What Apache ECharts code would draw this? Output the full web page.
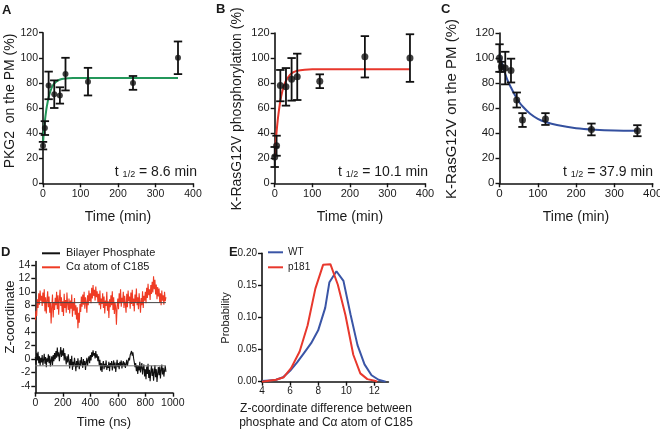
<!DOCTYPE html>
<html><head><meta charset="utf-8">
<script src="https://cdn.jsdelivr.net/npm/echarts@6/dist/echarts.min.js"></script>
<style>html,body{margin:0;padding:0;background:#fff}#c{width:660px;height:430px}</style>
</head><body><div id="c"></div>
<script>
// ---------- Data ----------
const timePoints = [0, 5, 15, 30, 45, 60, 120, 240, 360];
const pkg2Mean = [30, 44, 78, 71, 70, 87, 81, 80, 100];
const pkg2Err  = [3, 5.5, 11, 11, 6.5, 13, 11, 5.5, 13];
const phosMean = [21, 30, 78, 77, 83, 85, 81.5, 101, 100];
const phosErr  = [8, 8, 12.5, 15, 17, 18.5, 5.5, 16.5, 19];
const pmMean   = [100, 93, 92, 90, 66.5, 50.5, 51.3, 43, 42];
const pmErr    = [11, 4, 13, 9.5, 6, 5.5, 4.7, 4.7, 4.4];

const fitTimeAB = [0, 2, 4, 6, 8, 10, 15, 20, 25, 30, 40, 50, 60, 80, 100, 150, 200, 300, 360];
const fitPkg2 = [32, 39.8, 46.5, 52.2, 56.8, 60.8, 68.6, 73.7, 77.2, 79.5, 82, 83.1, 83.6, 83.9, 84, 84, 84, 84, 84];
const fitPhos = [21, 29.8, 37.6, 44.3, 50.2, 55.3, 65.9, 73.1, 78.3, 81.9, 86.4, 88.7, 89.9, 90.7, 91, 91, 91, 91, 91];
const fitTimeC = [0, 10, 20, 30, 40, 50, 60, 80, 100, 120, 150, 200, 250, 300, 360];
const fitPm = [103, 92, 83, 76.5, 70.5, 65.5, 61.5, 55.5, 51.5, 49, 46.5, 44, 42.8, 42.2, 42];

const simStepNs = 5;
const caZ = [
 5.8, 7.2, 6.4, 8.9, 7.6, 9.8, 8.1, 10.2, 8.7, 9.4,
 7.9, 9.9, 8.3, 10.4, 7.1, 9.2, 6.8, 8.8, 10.1, 7.7,
 9.3, 6.9, 8.4, 5.3, 7.8, 9.6, 6.2, 8.5, 7.3, 9.1,
 8.0, 10.0, 7.4, 9.5, 6.6, 8.9, 10.3, 7.9, 9.2, 7.0,
 8.6, 6.4, 9.7, 7.6, 8.8, 6.9, 9.9, 8.2, 7.3, 9.0,
 6.8, 8.7, 7.5, 9.6, 6.3, 8.4, 7.2, 9.1, 6.6, 8.0,
 5.9, 7.7, 4.6, 6.9, 5.4, 8.2, 7.0, 9.3, 7.8, 9.6,
 8.1, 10.0, 7.5, 9.2, 8.4, 6.9, 9.5, 8.0, 10.2, 8.6,
 9.8, 8.3, 10.6, 9.0, 11.0, 9.4, 10.3, 8.7, 10.8, 9.2,
 10.1, 8.5, 9.7, 8.0, 10.2, 7.4, 9.0, 8.2, 9.8, 7.6,
 9.3, 6.8, 8.7, 7.9, 10.0, 7.2, 8.6, 6.1, 8.9, 7.7,
 9.5, 8.0, 10.1, 7.3, 9.2, 6.7, 8.4, 7.6, 5.1, 7.9,
 9.0, 7.4, 9.8, 8.3, 10.4, 7.8, 9.1, 8.5, 10.0, 7.6,
 9.4, 8.1, 6.9, 9.7, 7.7, 10.2, 8.6, 9.3, 7.5, 9.9,
 8.2, 10.3, 7.9, 9.0, 7.1, 9.6, 8.4, 10.5, 8.0, 9.2,
 7.4, 9.8, 8.5, 6.9, 9.1, 8.0, 10.1, 7.6, 9.4, 8.7,
 10.0, 8.3, 10.6, 9.1, 11.2, 9.5, 10.4, 8.8, 11.0, 9.7,
 11.5, 9.9, 12.3, 10.4, 11.8, 9.6, 11.1, 8.9, 10.7, 9.3,
 10.5, 8.4, 9.8, 8.0, 10.2, 8.7, 9.5, 8.1, 10.0, 8.6,
 9.2];
const phosphateZ = [
 0.3, -0.8, 0.9, -0.2, 1.1, -0.6, 0.4, -1.0, 0.2, -0.5,
 0.6, -0.9, -0.1, 0.8, -0.7, 0.3, -1.2, 0.1, -0.4, 0.7,
 -0.6, 0.5, -1.1, -0.2, 0.4, -0.9, 0.6, -0.3, 0.9, 0.0,
 1.2, 0.2, 1.7, 0.4, 1.0, -0.3, 0.8, 1.8, 0.3, 1.3,
 0.5, 1.6, -0.2, 0.9, 0.1, -0.8, 0.4, -0.5, 0.7, -0.3,
 -1.4, 0.0, -0.9, 0.5, -1.6, -0.4, -1.1, 0.2, -0.7, -1.8,
 -0.3, -1.2, 0.1, -0.8, -1.5, -0.2, -1.0, 0.3, -0.6, -1.3,
 0.0, -0.9, -0.3, -1.6, -0.5, 0.2, -1.0, -0.1, 0.4, -0.6,
 0.6, -0.2, 1.0, 0.3, 1.3, 0.5, 0.9, 0.1, 1.2, 0.2,
 0.7, -0.3, 0.4, -0.9, -0.1, -1.7, -0.6, -1.9, -0.8, -0.3,
 -1.5, -0.7, -1.2, -0.2, -1.6, -0.9, -1.3, -0.4, -1.8, -0.6,
 -1.1, -0.3, -1.7, -0.8, -0.2, -1.4, -0.5, -1.9, -0.9, -0.1,
 -1.2, -0.6, -1.5, -0.4, -1.0, -0.2, -1.4, -0.7, -0.3, -1.1,
 -0.5, -1.3, -0.8, -0.1, -1.0, -0.4, 0.2, -0.2, 0.6, 0.9,
 1.2, 0.5, 1.0, 0.1, -0.5, -1.2, -0.6, -1.8, -0.9, -2.2,
 -1.0, -1.7, -0.4, -2.0, -1.2, -0.6, -2.3, -1.3, -0.8, -2.6,
 -1.5, -3.0, -1.1, -2.2, -0.7, -2.8, -1.6, -3.3, -1.9, -1.0,
 -2.5, -1.4, -3.2, -2.0, -0.9, -2.7, -1.5, -3.4, -2.1, -1.2,
 -2.4, -1.1, -2.9, -1.6, -0.8, -2.3, -1.3, -2.6, -1.7, -1.0,
 -1.9];
const caMean = 8.4;
const phosphateMean = -1.0;
const meanLineEnd = 950;

const wtX = [4.0, 4.5, 5.0, 5.5, 6.0, 6.5, 7.0, 7.5, 8.0, 8.5, 8.8, 9.3, 9.8, 10.3, 10.8, 11.3, 11.8, 12.3, 12.8];
const wtP = [0.001, 0.002, 0.003, 0.007, 0.017, 0.030, 0.045, 0.060, 0.080, 0.115, 0.155, 0.172, 0.157, 0.105, 0.057, 0.027, 0.010, 0.003, 0.0];
const p181X = [4.0, 5.0, 5.55, 6.07, 6.68, 7.25, 7.8, 8.35, 8.87, 9.4, 9.94, 10.5, 11.0, 11.5, 12.1, 12.2];
const p181P = [0.0, 0.003, 0.007, 0.021, 0.047, 0.088, 0.145, 0.182, 0.183, 0.151, 0.104, 0.042, 0.013, 0.004, 0.001, 0.0];

const zTicks = [-4, -2, 0, 2, 4, 6, 8, 10, 12, 14];
const diffTicks = [4, 6, 8, 10, 12];

// ---------- Build ----------
const FF = '"Liberation Sans", Arial, Helvetica, sans-serif';
const pairs = (xs, ys) => xs.map((x, i) => [x, ys[i]]);
const simPairs = ys => ys.map((y, i) => [i * simStepNs, y]);

function axisCommon(fs) {
  return {
    axisLine: { show: true, onZero: false, lineStyle: { color: '#111', width: 1.6 } },
    axisTick: { show: true, inside: false, length: 4, lineStyle: { color: '#111', width: 1.4 } },
    axisLabel: { color: '#1a1a1a', fontSize: fs, fontFamily: FF, margin: 5, formatter: v => String(v) },
    splitLine: { show: false }
  };
}
function xAx(gi, fs, extra) { return Object.assign({ type: 'value', gridIndex: gi }, axisCommon(fs), extra); }
function yAx(gi, fs, extra) { return Object.assign({ type: 'value', gridIndex: gi }, axisCommon(fs), extra); }

function errSeries(ai, means, errs) {
  return {
    type: 'custom', xAxisIndex: ai, yAxisIndex: ai, z: 3,
    data: timePoints.map((t, i) => [t, means[i] - errs[i], means[i] + errs[i]]),
    encode: { x: 0, y: [1, 2] },
    renderItem: function (params, api) {
      const x = api.value(0), lo = api.value(1), hi = api.value(2);
      const a = api.coord([x, lo]), b = api.coord([x, hi]);
      const w = 4.2, st = { stroke: '#111', lineWidth: 1.8 };
      return { type: 'group', children: [
        { type: 'line', shape: { x1: a[0], y1: a[1], x2: b[0], y2: b[1] }, style: st },
        { type: 'line', shape: { x1: a[0] - w, y1: a[1], x2: a[0] + w, y2: a[1] }, style: st },
        { type: 'line', shape: { x1: b[0] - w, y1: b[1], x2: b[0] + w, y2: b[1] }, style: st }
      ]};
    }
  };
}
function ptSeries(ai, means, size) {
  return { type: 'scatter', xAxisIndex: ai, yAxisIndex: ai, z: 4, symbol: 'circle', symbolSize: size,
    itemStyle: { color: '#111' }, data: pairs(timePoints, means) };
}
function fitSeries(ai, xs, ys, color) {
  return { type: 'line', xAxisIndex: ai, yAxisIndex: ai, z: 2, smooth: 0.3, symbol: 'none',
    lineStyle: { color: color, width: 2 }, data: pairs(xs, ys) };
}
function txt(x, y, text, size, opts) {
  opts = opts || {};
  return { type: 'text', x: x, y: y, rotation: opts.rot || 0, z: 10,
    style: { text: text, x: 0, y: 0, fill: '#1a1a1a', font: (opts.bold ? 'bold ' : '') + size + 'px ' + FF,
      textAlign: opts.align || 'center', textVerticalAlign: opts.va || 'middle' } };
}
function half(x, y, val, align) {
  return { type: 'text', x: x, y: y, z: 10,
    style: { text: '{m|t }{s|1/2}{m| = ' + val + ' min}', x: 0, y: 0, textAlign: align, textVerticalAlign: 'middle',
      rich: { m: { fontSize: 14, fontFamily: FF, fill: '#1a1a1a', color: '#1a1a1a' },
              s: { fontSize: 9, fontFamily: FF, fill: '#1a1a1a', color: '#1a1a1a', verticalAlign: 'bottom', padding: [4, 0, 0, 0] } } } };
}
function seg(x1, y1, x2, y2, color) {
  return { type: 'line', z: 10, shape: { x1: x1, y1: y1, x2: x2, y2: y2 }, style: { stroke: color, lineWidth: 2 } };
}

const RED_D = '#ef3b24', BLUE = '#3a55a6', RED_E = '#e8382d';

const option = {
  backgroundColor: '#fff',
  animation: false,
  grid: [
    { left: 43, top: 32.7, width: 150, height: 150.6, containLabel: false, outerBoundsMode: 'none' },
    { left: 274.7, top: 33, width: 150.3, height: 150.3, containLabel: false, outerBoundsMode: 'none' },
    { left: 499.5, top: 33, width: 153.2, height: 150.3, containLabel: false, outerBoundsMode: 'none' },
    { left: 35.3, top: 261.6, width: 137.5, height: 131.1, containLabel: false, outerBoundsMode: 'none' },
    { left: 262, top: 253.3, width: 126.4, height: 128.4, containLabel: false, outerBoundsMode: 'none' }
  ],
  xAxis: [
    xAx(0, 10.5, { min: 0, max: 400, interval: 100 }),
    xAx(1, 11, { min: 0, max: 400, interval: 100 }),
    xAx(2, 11.5, { min: 0, max: 400, interval: 100 }),
    xAx(3, 10.5, { min: 0, max: 1000, interval: 200 }),
    (function () { const a = xAx(4, 10, { min: 4, max: 13 });
      a.axisTick.customValues = diffTicks; a.axisLabel.customValues = diffTicks; return a; })()
  ],
  yAxis: [
    yAx(0, 10.5, { min: 0, max: 120, interval: 20 }),
    yAx(1, 11, { min: 0, max: 120, interval: 20 }),
    yAx(2, 11.5, { min: 0, max: 120, interval: 20 }),
    (function () { const a = yAx(3, 10.5, { min: -5, max: 14.5 });
      a.axisTick.customValues = zTicks; a.axisLabel.customValues = zTicks; return a; })(),
    (function () { const a = yAx(4, 10, { min: 0, max: 0.2, interval: 0.05 });
      a.axisLabel.formatter = v => v.toFixed(2); return a; })()
  ],
  series: [
    fitSeries(0, fitTimeAB, fitPkg2, '#23975a'),
    errSeries(0, pkg2Mean, pkg2Err),
    ptSeries(0, pkg2Mean, 6),
    fitSeries(1, fitTimeAB, fitPhos, '#e8372c'),
    errSeries(1, phosMean, phosErr),
    ptSeries(1, phosMean, 7),
    fitSeries(2, fitTimeC, fitPm, '#34509f'),
    errSeries(2, pmMean, pmErr),
    ptSeries(2, pmMean, 7),
    { name: 'Cα atom of C185', type: 'line', xAxisIndex: 3, yAxisIndex: 3, symbol: 'none',
      lineStyle: { color: RED_D, width: 1.1 }, data: simPairs(caZ) },
    { name: 'Bilayer Phosphate', type: 'line', xAxisIndex: 3, yAxisIndex: 3, symbol: 'none',
      lineStyle: { color: '#111', width: 1.1 }, data: simPairs(phosphateZ) },
    { type: 'line', xAxisIndex: 3, yAxisIndex: 3, symbol: 'none', z: 3,
      lineStyle: { color: '#444', width: 1 }, data: [[0, caMean], [meanLineEnd, caMean]] },
    { type: 'line', xAxisIndex: 3, yAxisIndex: 3, symbol: 'none', z: 3,
      lineStyle: { color: '#777', width: 1 }, data: [[0, phosphateMean], [meanLineEnd, phosphateMean]] },
    { name: 'WT', type: 'line', xAxisIndex: 4, yAxisIndex: 4, symbol: 'none',
      lineStyle: { color: BLUE, width: 2 }, data: pairs(wtX, wtP) },
    { name: 'p181', type: 'line', xAxisIndex: 4, yAxisIndex: 4, symbol: 'none',
      lineStyle: { color: RED_E, width: 2 }, data: pairs(p181X, p181P) }
  ],
  graphic: { elements: [
    txt(2, 4, 'A', 13, { bold: true, align: 'left', va: 'top' }),
    txt(216, 3, 'B', 13, { bold: true, align: 'left', va: 'top' }),
    txt(441, 3, 'C', 13, { bold: true, align: 'left', va: 'top' }),
    txt(1, 246, 'D', 13, { bold: true, align: 'left', va: 'top' }),
    txt(229, 246, 'E', 13, { bold: true, align: 'left', va: 'top' }),
    txt(10, 101, 'PKG2  on the PM (%)', 14, { rot: Math.PI / 2 }),
    txt(237, 109, 'K-RasG12V phosphorylation (%)', 14, { rot: Math.PI / 2 }),
    txt(452, 109, 'K-RasG12V on the PM (%)', 15, { rot: Math.PI / 2 }),
    txt(118, 217, 'Time (min)', 14),
    txt(350, 217, 'Time (min)', 14),
    txt(576, 217, 'Time (min)', 14),
    half(197, 172, '8.6', 'right'),
    half(428, 172, '10.1', 'right'),
    half(653, 172, '37.9', 'right'),
    txt(10, 317, 'Z-coordinate', 13, { rot: Math.PI / 2 }),
    txt(104, 422, 'Time (ns)', 13),
    seg(42, 253.3, 60, 253.3, '#111'),
    seg(42, 267.3, 60, 267.3, RED_D),
    txt(66, 253.3, 'Bilayer Phosphate', 11, { align: 'left' }),
    txt(66, 267.3, 'Cα atom of C185', 11, { align: 'left' }),
    txt(226, 318, 'Probability', 11, { rot: Math.PI / 2 }),
    seg(268, 252.3, 283, 252.3, BLUE),
    seg(268, 267.3, 283, 267.3, RED_E),
    txt(288, 252.3, 'WT', 10, { align: 'left' }),
    txt(288, 267.3, 'p181', 10, { align: 'left' }),
    txt(326, 409, 'Z-coordinate difference between', 12),
    txt(326, 423, 'phosphate and Cα atom of C185', 12)
  ] }
};
const chart = echarts.init(document.getElementById('c'), null, { renderer: 'canvas' });
chart.setOption(option);
</script></body></html>
